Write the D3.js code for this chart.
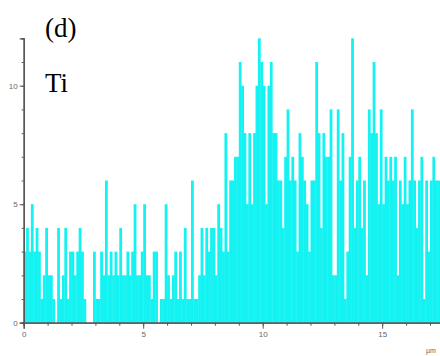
<!DOCTYPE html>
<html lang="en">
<head>
    <meta charset="UTF-8">
    <title>Ti line scan</title>
    <script src="https://cdn.jsdelivr.net/npm/d3@7"></script>
    <style>
        body { margin: 0; background: #fff; }
    </style>
</head>
<body>
<svg width="440" height="356" id="svgcontainer"></svg>
<script>
    // counts per 0.1 um step along the scan line
    const binWidth = 0.1;
    const counts = [
        3, 4, 3, 5, 3, 4, 3, 1, 2, 4, 2, 2, 1, 0, 4, 1, 2, 4, 1, 3,
        3, 2, 3, 4, 3, 1, 0, 0, 0, 3, 1, 1, 3, 2, 6, 2, 3, 2, 3, 2,
        4, 2, 2, 3, 2, 3, 5, 2, 2, 3, 5, 2, 2, 1, 3, 3, 0, 1, 1, 5,
        2, 1, 2, 3, 1, 3, 1, 4, 1, 1, 6, 1, 1, 2, 4, 2, 4, 3, 4, 4,
        2, 5, 4, 3, 8, 3, 6, 6, 7, 7, 11, 10, 8, 5, 8, 5, 8, 10, 12, 11,
        10, 5, 10, 11, 8, 8, 6, 6, 4, 7, 9, 6, 7, 6, 3, 8, 7, 6, 5, 3,
        6, 6, 11, 8, 4, 8, 7, 7, 9, 2, 2, 9, 6, 8, 1, 3, 7, 12, 4, 6,
        7, 4, 6, 2, 9, 8, 11, 8, 5, 9, 5, 7, 6, 7, 6, 7, 2, 6, 5, 7,
        5, 6, 9, 6, 4, 6, 7, 1, 6, 3, 6, 7, 6, 6, 5
    ];
    const xMajor = [0, 5, 10, 15];
    const yMajor = [0, 5, 10];
    const unitLabel = 'µm';

    const svg = d3.select('#svgcontainer');

    const xScale = d3.scaleLinear().domain([0, 17.5]).range([23.7, 23.7 + 17.5 * 23.9]);
    const yScale = d3.scaleLinear().domain([0, 12]).range([322.7, 38.3]);

    const bw = xScale(binWidth) - xScale(0);

    svg.append('g').selectAll('rect').data(counts).join('rect')
        .attr('x', (d, i) => xScale(i * binWidth))
        .attr('width', bw + 0.4)
        .attr('y', d => yScale(d))
        .attr('height', d => yScale(0) - yScale(d))
        .attr('fill', '#14f2f2');

    // minor ticks
    const yMinor = d3.axisLeft(yScale).tickValues(d3.range(0, 13)).tickSize(2).tickFormat('');
    const xMinor = d3.axisBottom(xScale).tickValues(d3.range(0, 18)).tickSize(3).tickFormat('');
    // major ticks with labels
    const yAxis = d3.axisLeft(yScale).tickValues(yMajor).tickSize(4).tickPadding(2);
    const xAxis = d3.axisBottom(xScale).tickValues(xMajor).tickSize(6).tickPadding(3);

    const gy = svg.append('g').attr('transform', `translate(${xScale(0)},0)`);
    gy.append('g').call(yMinor);
    gy.append('g').call(yAxis);

    const gx = svg.append('g').attr('transform', `translate(0,${yScale(0)})`);
    gx.append('g').call(xMinor);
    gx.append('g').call(xAxis);

    svg.selectAll('.domain').attr('stroke', '#555').attr('stroke-width', 1.3);
    svg.selectAll('.tick line').attr('stroke', '#555');
    svg.selectAll('.tick text').attr('fill', '#666').attr('font-size', '8px')
        .attr('font-family', 'Liberation Sans, Arial, sans-serif');

    svg.append('text').text(unitLabel)
        .attr('x', 426).attr('y', 353)
        .attr('font-size', '7px').attr('fill', '#666')
        .attr('font-family', 'Liberation Sans, Arial, sans-serif');

    svg.append('text').text('(d)')
        .attr('x', 45).attr('y', 37)
        .attr('font-size', '27px').attr('font-family', 'Liberation Serif, Times New Roman, serif');

    svg.append('text').text('Ti')
        .attr('x', 45).attr('y', 92)
        .attr('font-size', '27px').attr('font-family', 'Liberation Serif, Times New Roman, serif');
</script>
</body>
</html>
